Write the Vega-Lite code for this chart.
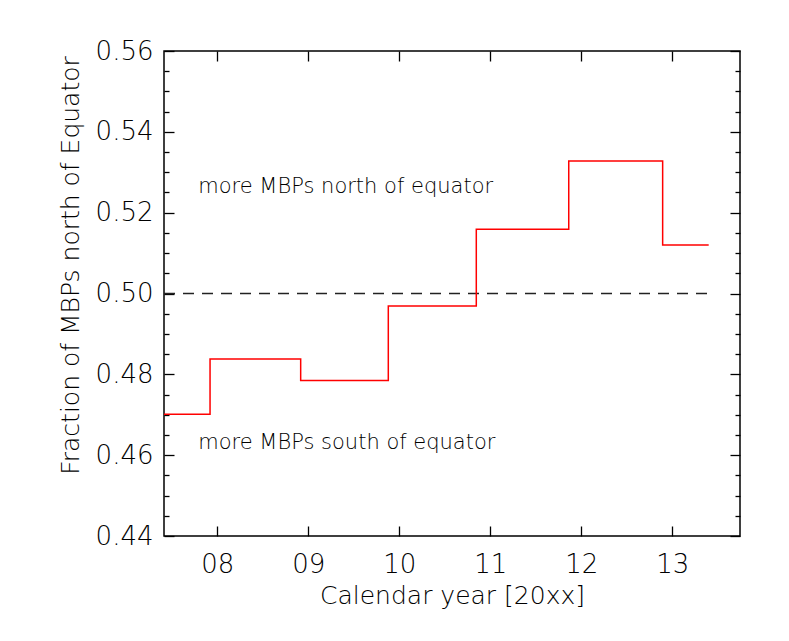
{
  "$schema": "https://vega.github.io/schema/vega-lite/v6.json",
  "width": 576,
  "height": 485,
  "autosize": {"type": "none"},
  "padding": {"left": 164, "top": 51, "right": 49, "bottom": 105},
  "background": "white",
  "config": {
    "view": {"stroke": "black", "strokeWidth": 1.5},
    "font": "DejaVu Sans",
    "axis": {
      "domain": false,
      "grid": false,
      "tickColor": "black",
      "tickWidth": 1.3,
      "labelColor": "black",
      "labelFont": "DejaVu Sans",
      "labelFontWeight": 200,
      "labelFontSize": 26,
      "titleFont": "DejaVu Sans",
      "titleFontWeight": 200,
      "titleFontSize": 25,
      "titleColor": "black"
    }
  },
  "datasets": {
    "steps": [
      {"year": 7.414, "frac": 0.4701},
      {"year": 7.92, "frac": 0.4838},
      {"year": 8.916, "frac": 0.4785},
      {"year": 9.879, "frac": 0.4969},
      {"year": 10.846, "frac": 0.5159},
      {"year": 11.862, "frac": 0.5328},
      {"year": 12.894, "frac": 0.512},
      {"year": 13.4, "frac": 0.512}
    ],
    "ref": [
      {"year": 7.414, "frac": 0.5},
      {"year": 13.4, "frac": 0.5}
    ],
    "notes": [
      {"year": 7.79, "frac": 0.5248, "label": "more MBPs north of equator"},
      {"year": 7.79, "frac": 0.4615, "label": "more MBPs south of equator"}
    ]
  },
  "resolve": {"axis": {"x": "independent", "y": "independent"}},
  "layer": [
    {
      "data": {"name": "ref"},
      "mark": {"type": "line", "color": "#222222", "strokeWidth": 1.5, "strokeDash": [11, 8], "clip": true},
      "encoding": {
        "x": {
          "field": "year", "type": "quantitative",
          "scale": {"domain": [7.414, 13.744], "nice": false, "zero": false},
          "axis": {
            "orient": "bottom",
            "values": [8, 9, 10, 11, 12, 13],
            "labelExpr": "(datum.value < 10 ? '0' : '') + format(datum.value, 'd')",
            "tickSize": -10,
            "labelPadding": 25,
            "title": "Calendar year [20xx]",
            "titlePadding": 6
          }
        },
        "y": {
          "field": "frac", "type": "quantitative",
          "scale": {"domain": [0.44, 0.56], "nice": false, "zero": false},
          "axis": {
            "orient": "left",
            "values": [0.44, 0.445, 0.45, 0.455, 0.46, 0.465, 0.47, 0.475, 0.48, 0.485, 0.49, 0.495, 0.5, 0.505, 0.51, 0.515, 0.52, 0.525, 0.53, 0.535, 0.54, 0.545, 0.55, 0.555, 0.56],
            "labelExpr": "abs(datum.value*50 - round(datum.value*50)) < 0.001 ? format(datum.value, '.2f') : ''",
            "tickSize": {"condition": {"test": "abs(datum.value*50 - round(datum.value*50)) < 0.001", "value": -10}, "value": -5},
            "labelPadding": 21,
            "labelOverlap": false,
            "title": "Fraction of MBPs north of Equator",
            "titlePadding": 12,
            "titleY": 214
          }
        }
      }
    },
    {
      "data": {"name": "steps"},
      "mark": {"type": "line", "color": "#ff0000", "strokeWidth": 1.5, "interpolate": "step-after", "clip": true},
      "encoding": {
        "x": {"field": "year", "type": "quantitative", "axis": null},
        "y": {"field": "frac", "type": "quantitative", "axis": null}
      }
    },
    {
      "data": {"name": "notes"},
      "mark": {"type": "text", "align": "left", "baseline": "alphabetic", "fontSize": 21, "fontWeight": 200, "font": "DejaVu Sans", "color": "black"},
      "encoding": {
        "x": {"field": "year", "type": "quantitative", "axis": null},
        "y": {"field": "frac", "type": "quantitative", "axis": null},
        "text": {"field": "label", "type": "nominal"}
      }
    },
    {
      "data": {"name": "ref"},
      "mark": {"type": "line", "strokeOpacity": 0},
      "encoding": {
        "x": {
          "field": "year", "type": "quantitative",
          "axis": {"orient": "top", "values": [8, 9, 10, 11, 12, 13], "labels": false, "tickSize": -10, "title": null}
        },
        "y": {
          "field": "frac", "type": "quantitative",
          "axis": {
            "orient": "right",
            "values": [0.44, 0.445, 0.45, 0.455, 0.46, 0.465, 0.47, 0.475, 0.48, 0.485, 0.49, 0.495, 0.5, 0.505, 0.51, 0.515, 0.52, 0.525, 0.53, 0.535, 0.54, 0.545, 0.55, 0.555, 0.56],
            "labels": false,
            "tickSize": {"condition": {"test": "abs(datum.value*50 - round(datum.value*50)) < 0.001", "value": -10}, "value": -5},
            "title": null
          }
        }
      }
    }
  ]
}
